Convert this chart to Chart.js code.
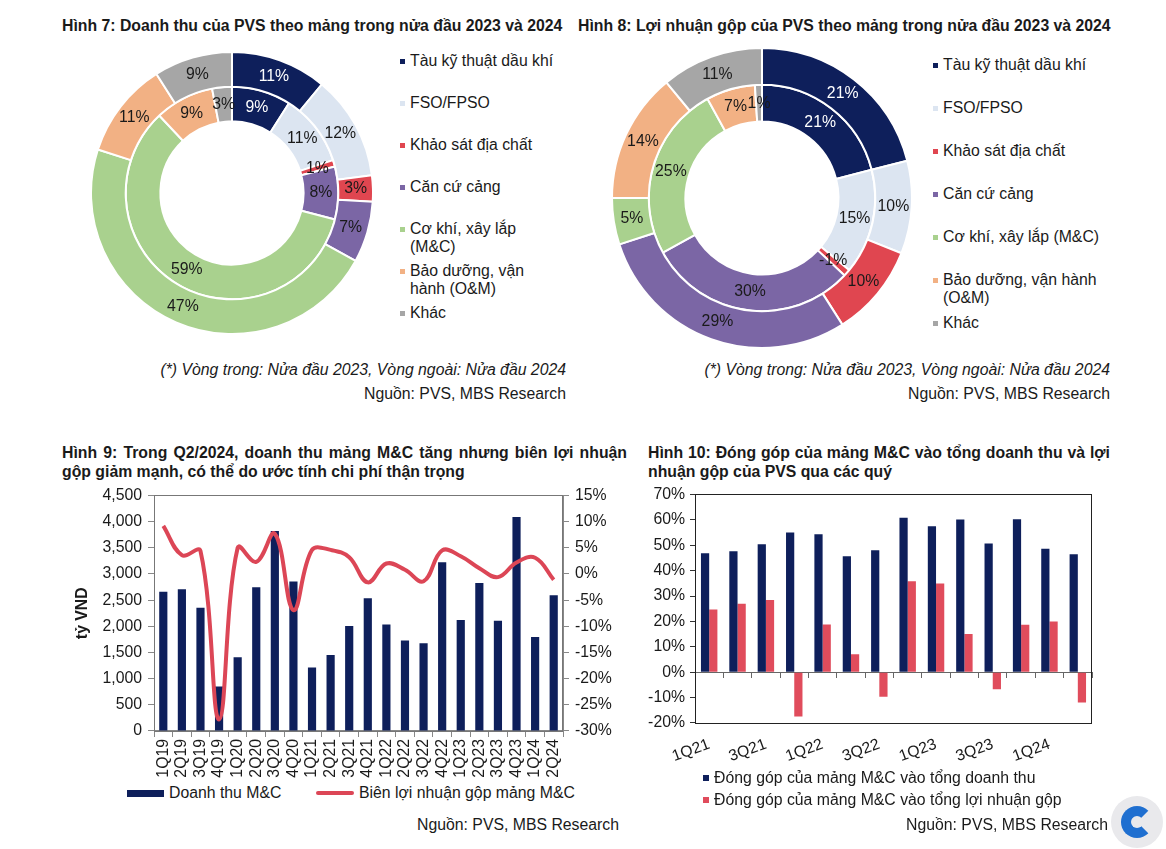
<!DOCTYPE html>
<html lang="vi">
<head>
<meta charset="utf-8">
<title>PVS - mảng M&amp;C</title>
<script src="https://cdn.jsdelivr.net/npm/chart.js@4.4.1/dist/chart.umd.min.js"></script>
<style>
  body { margin: 0; background: #fff; font-family: "Liberation Sans", Arial, sans-serif; color: #1a1a1a; }
  #trang { position: relative; width: 1166px; height: 849px; overflow: hidden; }
  .tieude { position: absolute; font-weight: bold; font-size: 15.8px; line-height: 19px; white-space: nowrap; }
  .dong-deu { text-align: justify; text-align-last: justify; }
  .ghichu { position: absolute; font-size: 15.8px; line-height: 18px; white-space: nowrap; text-align: right; }
  .khung { position: absolute; }
  .chugiai { position: absolute; font-size: 15.8px; line-height: 18px; }
  .chugiai i { position: absolute; left: -10px; top: 7px; width: 5px; height: 5px; }
  .o-mau { position: absolute; }
  #logo { position: absolute; left: 1111px; top: 796px; width: 52px; height: 52px; border-radius: 50%; background: #e9e9ec; }
  #logo div { position: absolute; left: 10px; top: 10px; width: 12px; height: 12px; border: 10px solid #1f6fd0; border-right-color: transparent; border-radius: 50%; }
</style>
</head>
<body>
<div id="trang">
  <!-- tiêu đề -->
  <div class="tieude" style="left:62px; top:16px;">Hình 7: Doanh thu của PVS theo mảng trong nửa đầu 2023 và 2024</div>
  <div class="tieude" style="left:578px; top:16px;">Hình 8: Lợi nhuận gộp của PVS theo mảng trong nửa đầu 2023 và 2024</div>
  <div class="tieude dong-deu" style="left:62px; top:443px; width:565px;">Hình 9: Trong Q2/2024, doanh thu mảng M&amp;C tăng nhưng biên lợi nhuận</div>
  <div class="tieude" style="left:62px; top:462px;">gộp giảm mạnh, có thể do ước tính chi phí thận trọng</div>
  <div class="tieude dong-deu" style="left:648px; top:443px; width:462px;">Hình 10: Đóng góp của mảng M&amp;C vào tổng doanh thu và lợi</div>
  <div class="tieude" style="left:648px; top:462px;">nhuận gộp của PVS qua các quý</div>

  <!-- biểu đồ -->
  <div class="khung" style="left:90px; top:51px; width:284px; height:284px;"><canvas id="bieu-do-7"></canvas></div>
  <div class="khung" style="left:611px; top:47px; width:302px; height:302px;"><canvas id="bieu-do-8"></canvas></div>
  <div class="khung" style="left:62px; top:480px; width:558px; height:300px;"><canvas id="bieu-do-9"></canvas></div>
  <div class="khung" style="left:640px; top:480px; width:475px; height:290px;"><canvas id="bieu-do-10"></canvas></div>

  <div id="chu-giai-7"></div>
  <div id="chu-giai-8"></div>

  <!-- ghi chú, nguồn -->
  <div class="ghichu" style="right:600px; top:361px; font-style:italic;">(*) Vòng trong: Nửa đầu 2023, Vòng ngoài: Nửa đầu 2024</div>
  <div class="ghichu" style="right:600px; top:385px;">Nguồn: PVS, MBS Research</div>
  <div class="ghichu" style="right:56px; top:361px; font-style:italic;">(*) Vòng trong: Nửa đầu 2023, Vòng ngoài: Nửa đầu 2024</div>
  <div class="ghichu" style="right:56px; top:385px;">Nguồn: PVS, MBS Research</div>

  <!-- chú giải hình 9 -->
  <div class="o-mau" style="left:127px; top:790px; width:37px; height:7px; background:#0e1f5b;"></div>
  <div class="ghichu" style="left:169px; top:784px; text-align:left;">Doanh thu M&amp;C</div>
  <div class="o-mau" style="left:316px; top:791px; width:38px; height:4px; border-radius:2px; background:#dc4656;"></div>
  <div class="ghichu" style="left:359px; top:784px; text-align:left;">Biên lợi nhuận gộp mảng M&amp;C</div>
  <div class="ghichu" style="right:547px; top:816px;">Nguồn: PVS, MBS Research</div>

  <!-- chú giải hình 10 -->
  <div class="o-mau" style="left:703px; top:775px; width:6px; height:6px; background:#0e1f5b;"></div>
  <div class="ghichu" style="left:714px; top:769px; text-align:left;">Đóng góp của mảng M&amp;C vào tổng doanh thu</div>
  <div class="o-mau" style="left:703px; top:797px; width:6px; height:6px; background:#e04c5c;"></div>
  <div class="ghichu" style="left:714px; top:791px; text-align:left;">Đóng góp của mảng M&amp;C vào tổng lợi nhuận gộp</div>
  <div class="ghichu" style="right:58px; top:816px;">Nguồn: PVS, MBS Research</div>

  <div id="logo"><div></div></div>
</div>

<script>
// các mảng kinh doanh
const mangKinhDoanh = ["Tàu kỹ thuật dầu khí", "FSO/FPSO", "Khảo sát địa chất", "Căn cứ cảng",
    "Cơ khí, xây lắp (M&C)", "Bảo dưỡng, vận hành (O&M)", "Khác"];
const mauMang = ["#0e1f5b", "#dce5f1", "#e04650", "#7b66a5", "#a9d18e", "#f2b184", "#a6a6a6"];

// hình 7 - cơ cấu doanh thu (%)
const doanhThu2023 = [9, 11, 1, 8, 59, 9, 3];
const doanhThu2024 = [11, 12, 3, 7, 47, 11, 9];

// hình 8 - cơ cấu lợi nhuận gộp (%)
const loiNhuan2023 = [21, 15, -1, 30, 25, 7, 1];
const loiNhuan2024 = [21, 10, 10, 29, 5, 14, 11];

// hình 9 - doanh thu M&C (tỷ VND) và biên lợi nhuận gộp (%)
const quy9 = ["1Q19", "2Q19", "3Q19", "4Q19", "1Q20", "2Q20", "3Q20", "4Q20", "1Q21", "2Q21", "3Q21",
    "4Q21", "1Q22", "2Q22", "3Q22", "4Q22", "1Q23", "2Q23", "3Q23", "4Q23", "1Q24", "2Q24"];
const doanhThuMC = [2660, 2710, 2355, 850, 1410, 2745, 3820, 2855, 1215, 1450, 2005,
    2535, 2035, 1730, 1675, 3225, 2120, 2830, 2105, 4090, 1795, 2595];
const bienLoiNhuanMC = [9.2, 3.6, 4.4, -27.8, 5.0, 2.3, 7.7, -6.9, 4.6, 4.6, 3.2,
    -1.6, 2.0, 0.8, -1.4, 4.5, 3.4, 1.1, -0.6, 2.2, 3.1, -1.1];

// hình 10 - đóng góp của M&C (%)
const quy10 = ["1Q21", "2Q21", "3Q21", "4Q21", "1Q22", "2Q22", "3Q22", "4Q22", "1Q23", "2Q23",
    "3Q23", "4Q23", "1Q24", "2Q24"];
const gopDoanhThu = [46.9, 47.6, 50.4, 55.0, 54.3, 45.7, 48.0, 60.8, 57.5, 60.1, 50.7, 60.2, 48.6, 46.5];
const gopLoiNhuan = [24.7, 27.0, 28.4, -17.4, 18.8, 7.1, -9.7, 35.8, 34.9, 15.1, -6.7, 18.7, 20.0, -11.9];

Chart.defaults.font.family = '"Liberation Sans", Arial, sans-serif';
Chart.defaults.font.size = 15.8;
Chart.defaults.color = "#1a1a1a";
Chart.defaults.animation = false;
Chart.defaults.plugins.legend.display = false;
Chart.defaults.plugins.tooltip.enabled = false;

// nhãn % trên các lát của vành
const nhanPhanTram = {
    id: "nhanPhanTram",
    afterDatasetsDraw(chart) {
        const ctx = chart.ctx;
        ctx.save();
        ctx.font = '15.8px "Liberation Sans", Arial, sans-serif';
        ctx.textAlign = "center";
        ctx.textBaseline = "middle";
        chart.data.datasets.forEach((ds, i) => {
            chart.getDatasetMeta(i).data.forEach((arc, j) => {
                const p = arc.tooltipPosition();
                ctx.fillStyle = j === 0 ? "#ffffff" : "#1a1a1a";
                ctx.fillText(ds.nhan[j] + "%", p.x, p.y);
            });
        });
        ctx.restore();
    }
};

// khung quanh vùng vẽ
const khungVe = {
    id: "khungVe",
    afterDraw(chart, args, opts) {
        const { ctx, chartArea: a } = chart;
        ctx.save();
        ctx.strokeStyle = opts.mau;
        ctx.lineWidth = 1;
        ctx.strokeRect(Math.round(a.left) + 0.5, Math.round(a.top) + 0.5,
            Math.round(a.width) - 1, Math.round(a.height));
        ctx.restore();
    }
};

function veVanh(id, trong, ngoai, cutout) {
    new Chart(document.getElementById(id), {
        type: "doughnut",
        data: {
            labels: mangKinhDoanh,
            datasets: [
                { data: ngoai.map(v => Math.abs(v)), nhan: ngoai, backgroundColor: mauMang,
                  borderColor: "#fff", borderWidth: 2, hoverOffset: 0 },
                { data: trong.map(v => Math.abs(v)), nhan: trong, backgroundColor: mauMang,
                  borderColor: "#fff", borderWidth: 2, hoverOffset: 0 }
            ]
        },
        options: {
            responsive: true,
            maintainAspectRatio: false,
            events: [],
            cutout: cutout,
            layout: { padding: 0 }
        },
        plugins: [nhanPhanTram]
    });
}

function veChuGiai(id, trai, dau, buoc, rong) {
    const hop = document.getElementById(id);
    mangKinhDoanh.forEach((ten, i) => {
        const d = document.createElement("div");
        d.className = "chugiai";
        d.style.left = trai + "px";
        d.style.top = (dau + i * buoc - 9) + "px";
        d.style.width = rong + "px";
        d.innerHTML = '<i style="background:' + mauMang[i] + '"></i>' + ten.replace("&", "&amp;");
        hop.appendChild(d);
    });
}

// hình 7, hình 8 - biểu đồ vành
veVanh("bieu-do-7", doanhThu2023, doanhThu2024, "50.8%");
veVanh("bieu-do-8", loiNhuan2023, loiNhuan2024, "51%");
veChuGiai("chu-giai-7", 410, 61, 42, 150);
veChuGiai("chu-giai-8", 943, 65, 43, 165);

// hình 9 - cột doanh thu + đường biên lợi nhuận
new Chart(document.getElementById("bieu-do-9"), {
    type: "bar",
    data: {
        labels: quy9,
        datasets: [
            { type: "line", label: "Biên lợi nhuận gộp mảng M&C", data: bienLoiNhuanMC, yAxisID: "y1",
              borderColor: "#dc4656", borderWidth: 4, tension: 0.4, pointRadius: 0, order: 0, clip: false },
            { type: "bar", label: "Doanh thu M&C", data: doanhThuMC, yAxisID: "y",
              backgroundColor: "#0e1f5b", barPercentage: 0.44, categoryPercentage: 1, order: 1 }
        ]
    },
    options: {
        responsive: true,
        maintainAspectRatio: false,
        events: [],
        layout: { padding: { top: 12 } },
        scales: {
            x: {
                grid: { offset: true, drawOnChartArea: false, tickLength: 6, color: "#888" },
                border: { color: "#888" },
                ticks: { minRotation: 90, maxRotation: 90, autoSkip: false, padding: 2 },
                afterFit: s => { s.height = 49; }
            },
            y: {
                min: 0, max: 4500,
                ticks: { stepSize: 500, padding: 6, callback: v => v.toLocaleString("en-US") },
                grid: { drawOnChartArea: false, tickLength: 6, color: "#888" },
                border: { color: "#888" },
                title: { display: true, text: "tỷ VND", font: { weight: "bold", size: 15.8 }, padding: { top: 11, bottom: 0 } },
                afterFit: s => { s.width = 92; }
            },
            y1: {
                position: "right",
                min: -30, max: 15,
                ticks: { stepSize: 5, padding: 6, callback: v => v + "%" },
                grid: { drawOnChartArea: false, tickLength: 6, color: "#888" },
                border: { color: "#888" },
                afterFit: s => { s.width = 57; }
            }
        },
        plugins: { khungVe: { mau: "#777" } }
    },
    plugins: [khungVe]
});

// hình 10 - cột đóng góp
new Chart(document.getElementById("bieu-do-10"), {
    type: "bar",
    data: {
        labels: quy10,
        datasets: [
            { label: "Đóng góp của mảng M&C vào tổng doanh thu", data: gopDoanhThu,
              backgroundColor: "#0e1f5b", barPercentage: 1, categoryPercentage: 0.58 },
            { label: "Đóng góp của mảng M&C vào tổng lợi nhuận gộp", data: gopLoiNhuan,
              backgroundColor: "#e04c5c", barPercentage: 1, categoryPercentage: 0.58 }
        ]
    },
    options: {
        responsive: true,
        maintainAspectRatio: false,
        events: [],
        layout: { padding: { top: 12, right: 23 } },
        scales: {
            x: {
                grid: { display: false },
                border: { display: false },
                ticks: { autoSkip: false, minRotation: 20, maxRotation: 20, padding: 4,
                         callback: (v, i) => (i % 2 === 0 ? quy10[i] : "") },
                afterFit: s => { s.height = 47; }
            },
            x0: {
                type: "category",
                labels: quy10,
                position: { y: 0 },
                offset: true,
                grid: { offset: true, drawOnChartArea: false, tickLength: 5, color: "#666" },
                border: { color: "#666" },
                ticks: { display: false },
                afterFit: s => { s.height = 0; }
            },
            y: {
                min: -20, max: 70,
                ticks: { stepSize: 10, padding: 5, callback: v => v + "%" },
                grid: { drawOnChartArea: false, tickLength: 5, color: "#333" },
                border: { display: false },
                afterFit: s => { s.width = 55; }
            }
        },
        plugins: { khungVe: { mau: "#222" } }
    },
    plugins: [khungVe]
});
</script>
</body>
</html>
